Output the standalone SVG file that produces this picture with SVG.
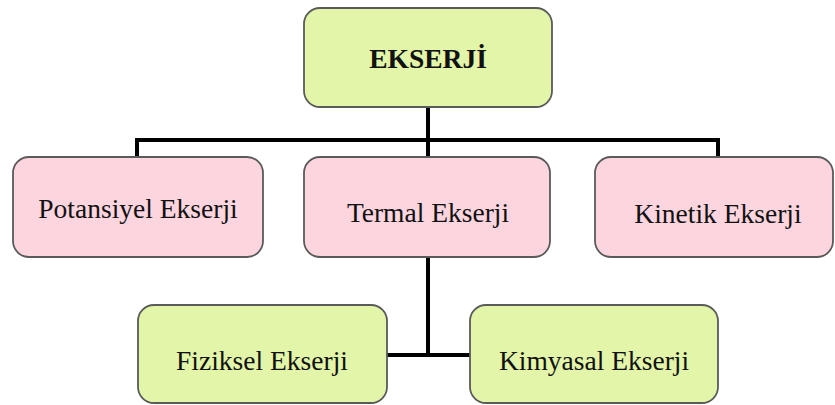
<svg xmlns="http://www.w3.org/2000/svg" width="835" height="405" viewBox="0 0 835 405">
<style>
.box{stroke:#5a5a5a;stroke-width:1.8}
.green{fill:#e3f5a9}
.pink{fill:#fdd5df}
.t{font-family:"Liberation Serif","Times New Roman",serif;font-size:27.5px;fill:#111;text-anchor:middle}
.b{font-weight:bold}
.c{fill:none;stroke:#000;stroke-width:4}
</style>
<rect width="835" height="405" fill="#fff"/>
<g id="connectors">
<path class="c" d="M428 107V140M137 140H718M137 138V158M428 138V158M718 138V158"/>
<path class="c" d="M428 257V355M387 355H470"/>
</g>
<g id="ekserji">
<rect class="box green" x="304" y="8" width="248" height="99" rx="16"/>
<text class="t b" x="428" y="68">EKSERJİ</text>
</g>
<g id="potansiyel">
<rect class="box pink" x="13" y="157" width="250" height="100" rx="16"/>
<text class="t" x="138" y="218">Potansiyel Ekserji</text>
</g>
<g id="termal">
<rect class="box pink" x="304" y="157" width="246" height="100" rx="16"/>
<text class="t" x="428" y="222">Termal Ekserji</text>
</g>
<g id="kinetik">
<rect class="box pink" x="595" y="157" width="238" height="100" rx="16"/>
<text class="t" x="718" y="223">Kinetik Ekserji</text>
</g>
<g id="fiziksel">
<rect class="box green" x="138" y="305" width="249" height="98" rx="16"/>
<text class="t" x="262" y="370">Fiziksel Ekserji</text>
</g>
<g id="kimyasal">
<rect class="box green" x="470" y="305" width="248" height="98" rx="16"/>
<text class="t" x="594" y="370">Kimyasal Ekserji</text>
</g>
</svg>
